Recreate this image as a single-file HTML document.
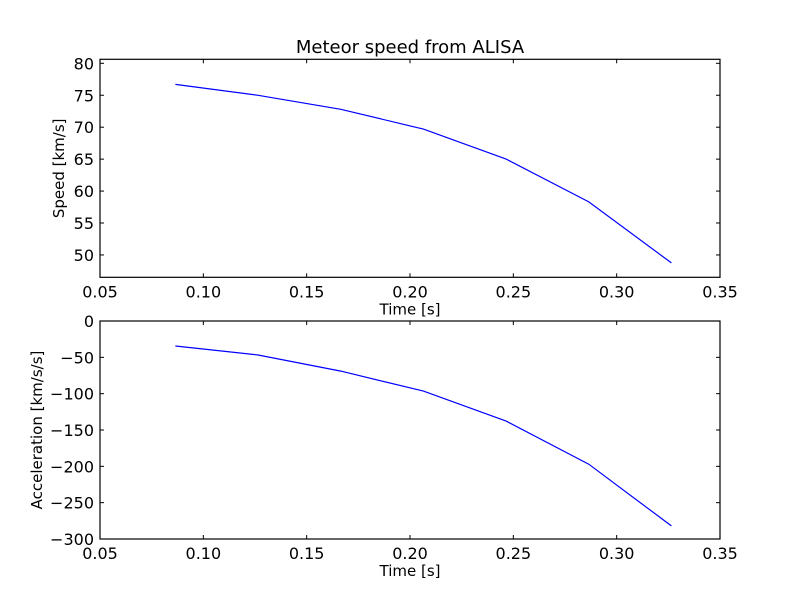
<!DOCTYPE html>
<html><head><meta charset="utf-8"><style>
body{margin:0;background:#fff}
svg{display:block;font-family:"DejaVu Sans","Liberation Sans",sans-serif}
</style></head><body>
<svg id="chart" width="800" height="600">
<rect width="800" height="600" fill="#fff"/>
<text x="410" y="53" font-size="18" text-anchor="middle">Meteor speed from  ALISA</text>
</svg>
<script>
const times=[0.0865,0.1265,0.1665,0.2065,0.2465,0.2865,0.3265];
const speed=[76.7,75.0,72.8,69.7,65.0,58.3,48.75];
const accel=[-34.4,-46.8,-68.9,-96.4,-137.7,-197,-282];
const xTicks=[0.05,0.10,0.15,0.20,0.25,0.30,0.35];
const speedTicks=[50,55,60,65,70,75,80];
const accelTicks=[0,-50,-100,-150,-200,-250,-300];
const NS="http://www.w3.org/2000/svg";
const svg=document.getElementById('chart');
function mk(tag,attrs,parent){const e=document.createElementNS(NS,tag);for(const k in attrs)e.setAttribute(k,attrs[k]);(parent||svg).appendChild(e);return e;}
function panel(name,top,bottom,yMin,yMax,ticks,vals,ylabel){
  const L=100,R=720;
  const g=mk('g',{});
  
  
  const xs=v=>L+(v-0.05)/(0.35-0.05)*(R-L);
  const ys=v=>bottom-(v-yMin)/(yMax-yMin)*(bottom-top);
  const pts=times.map((t,i)=>xs(t).toFixed(1)+','+ys(vals[i]).toFixed(1)).join(' ');
  const line=mk('polyline',{points:pts,fill:'none',stroke:'#0000ff','stroke-width':1.2},g);
  
  
  const fr=mk('rect',{x:L,y:top,width:R-L,height:bottom-top,fill:'none',stroke:'#000','stroke-width':1.2},g);
  
  
  xTicks.forEach(v=>{const x=xs(v);
    mk('line',{x1:x,x2:x,y1:bottom,y2:bottom-4,stroke:'#000'},g);
    mk('line',{x1:x,x2:x,y1:top,y2:top+4,stroke:'#000'},g);
    const t=mk('text',{x:x,y:bottom+20,'font-size':16,'text-anchor':'middle'},g);
    t.textContent=v.toFixed(2);
    
    });
  ticks.forEach(v=>{const y=ys(v);
    mk('line',{x1:L,x2:L+4,y1:y,y2:y,stroke:'#000'},g);
    mk('line',{x1:R,x2:R-4,y1:y,y2:y,stroke:'#000'},g);
    const t=mk('text',{x:L-6,y:y+6,'font-size':16,'text-anchor':'end'},g);
    t.textContent=v===0?'0':String(v).replace('-','\u2212');
    
    });
  const xl=mk('text',{x:410,y:bottom+37,'font-size':15,'text-anchor':'middle'},g);
  xl.textContent='Time [s]';
  
  
  const yx=name==='speed'?64:42;
  const yl=mk('text',{x:yx,y:(top+bottom)/2,'font-size':15,'text-anchor':'middle',transform:`rotate(-90 ${yx} ${(top+bottom)/2})`},g);
  yl.textContent=ylabel;
  
  
}
panel('speed',59.3,277.3,46.5,80.63,speedTicks,speed,'Speed [km/s]');
panel('acceleration',321,539,-300,0,accelTicks,accel,'Acceleration [km/s/s]');
</script>
</body></html>
